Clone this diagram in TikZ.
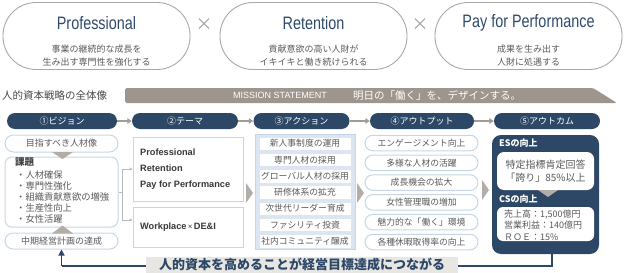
\documentclass[tikz,border=0pt]{standalone}
\usepackage{fontspec}
\setmainfont{Noto Sans CJK JP}
\newfontfamily\lat{Liberation Sans}
\newfontfamily\latn[FakeStretch=0.8]{Liberation Sans}
\usetikzlibrary{arrows.meta,calc}
\definecolor{navy}{HTML}{2C4866}
\definecolor{ttlc}{HTML}{2E4A6B}
\definecolor{lb}{HTML}{C6D6E6}
\definecolor{lbf}{HTML}{DCE6F0}
\definecolor{warm}{HTML}{9E958D}
\definecolor{trig}{HTML}{B3ADA7}
\definecolor{txtg}{HTML}{5A5A5A}
\definecolor{ellc}{HTML}{A8A8A8}
\definecolor{arrg}{HTML}{A39C96}
\definecolor{barbg}{HTML}{E8E6E3}
\newcommand{\myfs}[1]{\fontsize{#1}{#1}\selectfont}
\begin{document}
\begin{tikzpicture}[x=1pt,y=-1pt,
  ell/.style={draw=ellc, line width=0.9pt, rounded corners=33pt, minimum width=187pt, minimum height=67pt, inner sep=0pt},
  ttl/.style={font=\latn\myfs{18}, text=ttlc, inner sep=0pt},
  sub/.style={font=\fontsize{9}{13}\selectfont, text=txtg, align=center, inner sep=0pt},
  times/.style={font=\myfs{17}, text=gray!75, inner sep=0pt},
  stage/.style={fill=navy, rounded corners=8pt, minimum height=16pt, inner sep=0pt, text=white, font=\myfs{9}},
  stagearrow/.style={draw=arrg, line width=1.6pt, -{Triangle[length=4.5pt,width=5.5pt]}},
  rbox/.style={draw=lb, line width=1pt, fill=white, inner sep=0pt, font=\myfs{9}, text=txtg},
  sbox/.style={draw=lb, line width=1pt, fill=white, inner sep=0pt},
  abox/.style={fill=white, draw=lb!60, line width=0.4pt, minimum width=92pt, minimum height=13.5pt, inner sep=0pt, font=\myfs{8.8}, text=txtg},
  obox/.style={rbox, rounded corners=7.75pt, minimum width=113pt, minimum height=15.5pt, font=\myfs{8.8}},
  theme/.style={font=\lat\bfseries\myfs{9.2}, text=black!78, inner sep=0pt, anchor=west},
  bconn/.style={draw=gray!55, line width=0.6pt},
  wlab/.style={font=\bfseries\myfs{9}, text=white, inner sep=0pt, anchor=west},
  retline/.style={draw=navy, line width=1.6pt}
]
\useasboundingbox (0,0) rectangle (624,273);

% top ellipses
\node[ell] (e1) at (96.5,36) {};
\node[ell] (e2) at (313.5,36) {};
\node[ell] (e3) at (528.5,36) {};
\node[ttl] (t1a) at (96.5,23) {Professional};
\node[ttl] (t2a) at (313.5,23) {Retention};
\node[ttl] (t3a) at (528.5,23) {Pay for Performance};
\node[sub] (s1) at (96.5,55.5) {事業の継続的な成長を\\生み出す専門性を強化する};
\node[sub] (s2) at (313.5,55.5) {貢献意欲の高い人財が\\イキイキと働き続けられる};
\node[sub] (s3) at (528.5,55.5) {成果を生み出す\\人財に処遇する};
\node[times] (x1) at (204,25) {×};
\node[times] (x2) at (420,25) {×};

% heading and mission bar
\node[anchor=west, inner sep=0pt, font=\myfs{10.5}, text=black!72] (head) at (2,96) {人的資本戦略の全体像};
\fill[warm, rounded corners=1.5pt] (125,88) -- (593,88) -- (617,103) -- (125,103) -- cycle;
\node[anchor=west, inner sep=0pt, font=\lat\myfs{9}, text=white] (ms1) at (233,95.5) {MISSION STATEMENT};
\node[anchor=west, inner sep=0pt, font=\myfs{10.5}, text=white] (ms2) at (353,95.5) {明日の「働く」を、デザインする。};

% stage pills
\node[stage, minimum width=110pt] (p1) at (62,121) {①ビジョン};
\node[stage, minimum width=106pt] (p2) at (185,121) {②テーマ};
\node[stage, minimum width=96pt] (p3) at (301.5,121) {③アクション};
\node[stage, minimum width=104pt] (p4) at (422,121) {④アウトプット};
\node[stage, minimum width=106pt] (p5) at (547,121) {⑤アウトカム};
\draw[stagearrow] (p1.east) -- (p2.west);
\draw[stagearrow] (p2.east) -- (p3.west);
\draw[stagearrow] (p3.east) -- (p4.west);
\draw[stagearrow] (p4.east) -- (p5.west);

% column 1
\node[rbox, rounded corners=8.5pt, minimum width=113pt, minimum height=17pt] (aim) at (61.5,143.5) {目指すべき人材像};
\node[sbox, rounded corners=7pt, minimum width=113pt, minimum height=70pt] (kadai) at (61.5,192) {};
\node[rbox, rounded corners=8pt, minimum width=113pt, minimum height=16pt] (chuki) at (61.5,241) {中期経営計画の達成};
\fill[trig] (52,152) -- (73,152) -- (62.5,159) -- cycle;
\fill[trig] (52,233.5) -- (73,233.5) -- (62.5,225.5) -- cycle;
\node[anchor=west, inner sep=0pt, font=\bfseries\myfs{9.5}, text=black!75] (kt) at (15,162) {課題};
\node[anchor=north west, inner sep=0pt, align=left, font=\fontsize{9.3}{10.9}\selectfont, text=txtg] (kl) at (16,170.5)
  {・人材確保\\・専門性強化\\・組織貢献意欲の増強\\・生産性向上\\・女性活躍};

% column 2
\node[sbox, minimum width=110pt, minimum height=64pt] (th1) at (188,169) {};
\node[sbox, minimum width=110pt, minimum height=40pt] (th2) at (188,227) {};
\node[theme] (th1a) at (140,152) {Professional};
\node[theme] (th1b) at (140,168.5) {Retention};
\node[theme] (th1c) at (140,185) {Pay for Performance};
\node[theme] (th2a) at (140,227) {Workplace{\mdseries\myfs{8}\,×\,}DE\&I};
\draw[bconn] (kadai.east) -- ++(4,0) coordinate (bj);
\draw[bconn, -{Triangle[length=3pt,width=3pt]}] (bj) |- (th1.west);
\draw[bconn, -{Triangle[length=3pt,width=3pt]}] (bj) |- ($(th2.west)+(0,-7)$);

% column 3
\node[fill=lbf, draw=lb, line width=0.6pt, minimum width=100pt, minimum height=115pt, inner sep=0pt] (act) at (305,191.5) {};
\node[abox] (a1) at (305,143.5) {新人事制度の運用};
\node[abox] (a2) at (305,159.75) {専門人材の採用};
\node[abox] (a3) at (305,176) {グローバル人材の採用};
\node[abox] (a4) at (305,192.25) {研修体系の拡充};
\node[abox] (a5) at (305,208.5) {次世代リーダー育成};
\node[abox] (a6) at (305,224.75) {ファシリティ投資};
\node[abox] (a7) at (305,241) {社内コミュニティ醸成};

% column 4
\node[obox] (o1) at (421.5,143) {エンゲージメント向上};
\node[obox] (o2) at (421.5,162.8) {多様な人材の活躍};
\node[obox] (o3) at (421.5,182.6) {成長機会の拡大};
\node[obox] (o4) at (421.5,202.4) {女性管理職の増加};
\node[obox] (o5) at (421.5,222.2) {魅力的な「働く」環境};
\node[obox] (o6) at (421.5,242) {各種休暇取得率の向上};

% chevrons
\fill[trig] (246,183) -- (246,203) -- (253,193) -- cycle;
\fill[trig] (357,183) -- (357,203) -- (364,193) -- cycle;
\fill[trig] (482,180) -- (482,200) -- (489,190) -- cycle;

% column 5
\node[fill=navy, rounded corners=9pt, minimum width=107pt, minimum height=119pt, inner sep=0pt] (outc) at (545.5,194.5) {};
\node[wlab] (es) at (499,143) {ESの向上};
\node[fill=white, rounded corners=7pt, minimum width=97pt, minimum height=38pt, inner sep=0pt, align=center, font=\fontsize{10}{13}\selectfont, text=txtg] (w1) at (545.5,171) {特定指標肯定回答\\「誇り」85\%以上};
\fill[trig] (538,190) -- (558,190) -- (548,197) -- cycle;
\node[wlab] (cs) at (499,199) {CSの向上};
\node[fill=white, rounded corners=6pt, minimum width=97pt, minimum height=34pt, inner sep=0pt] (w2) at (545.5,224) {};
\node[anchor=west, inner sep=0pt, align=left, font=\fontsize{9}{11.3}\selectfont, text=txtg] (w2t) at (504,225) {売上高：1,500億円\\営業利益：140億円\\ＲＯＥ：15\%};

% return loop
\coordinate (r1) at (552,266);
\draw[retline] (outc.south -| r1) -- (r1) -- (r1 -| chuki.south) coordinate (r2);
\draw[retline, -{Triangle[length=6pt,width=6pt]}] (r2) -- (chuki.south);
\node[fill=barbg, minimum width=312pt, minimum height=16pt, inner sep=0pt, font=\bfseries\myfs{13}, text=navy] (goal) at (302,265) {人的資本を高めることが経営目標達成につながる};
\end{tikzpicture}
\end{document}
